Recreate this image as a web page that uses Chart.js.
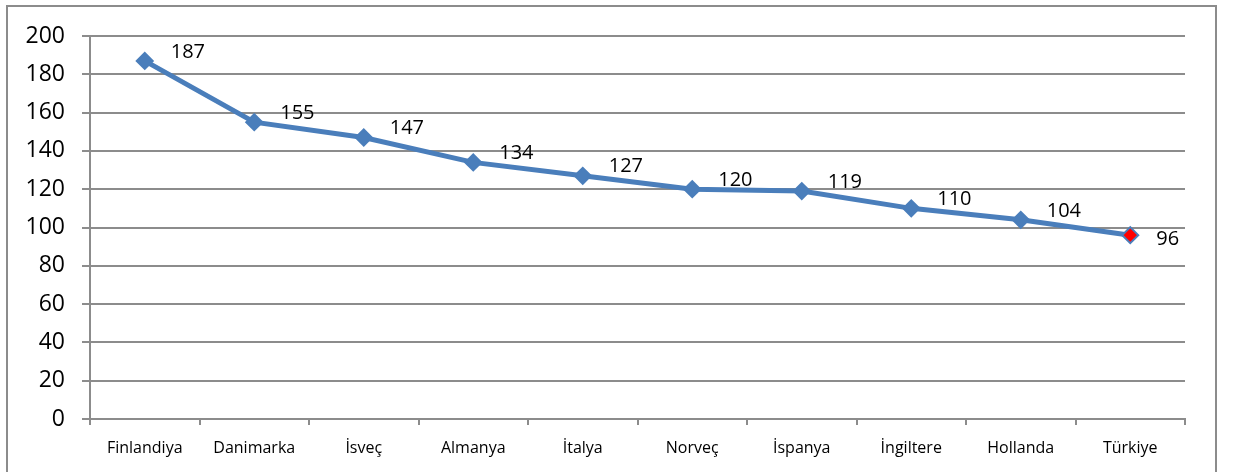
<!DOCTYPE html>
<html>
<head>
<meta charset="utf-8">
<script src="https://cdn.jsdelivr.net/npm/chart.js@4/dist/chart.umd.min.js"></script>
<style>
  html, body { margin: 0; padding: 0; background: #fff; overflow: hidden; }
  #wrap { position: absolute; left: 0; top: 0; width: 1235px; height: 472px; }
  #frame { position: absolute; left: 6px; top: 5px; width: 1207px; height: 480px; border: 2px solid #8c8c8c; pointer-events: none; }
</style>
</head>
<body>
<div id="wrap"><canvas id="c" width="1235" height="472"></canvas></div>
<div id="frame"></div>
<script>
const categories = ["Finlandiya", "Danimarka", "İsveç", "Almanya", "İtalya", "Norveç", "İspanya", "İngiltere", "Hollanda", "Türkiye"];
const values = [187, 155, 147, 134, 127, 120, 119, 110, 104, 96];
const yTicks = [0, 20, 40, 60, 80, 100, 120, 140, 160, 180, 200];
const highlightIndex = 9;

const BLUE = '#4A7EBB';
const GRID = '#8c8c8c';
const FONT = '"Open Sans", "Liberation Sans", sans-serif';

const labelPlugin = {
  id: 'valueLabels',
  afterDatasetsDraw(chart) {
    const ctx = chart.ctx;
    const meta = chart.getDatasetMeta(0);
    ctx.save();
    ctx.font = '20px ' + FONT;
    ctx.fillStyle = '#000';
    ctx.textAlign = 'left';
    ctx.textBaseline = 'middle';
    meta.data.forEach((pt, i) => {
      const dy = (i === highlightIndex) ? 4 : -9;
      ctx.fillText(String(values[i]), pt.x + 26, pt.y + dy);
    });
    ctx.restore();
  }
};

new Chart(document.getElementById('c'), {
  type: 'line',
  data: {
    labels: categories,
    datasets: [{
      data: values,
      borderColor: BLUE,
      borderWidth: 5,
      tension: 0,
      pointStyle: 'rectRot',
      pointRadius: 8,
      pointHoverRadius: 8,
      pointBorderWidth: 2,
      pointBorderColor: BLUE,
      pointBackgroundColor: (c) => c.dataIndex === highlightIndex ? '#FF0000' : BLUE
    }]
  },
  options: {
    responsive: false,
    animation: false,
    events: [],
    layout: { padding: { top: 36, right: 50, bottom: 0, left: 0 } },
    plugins: { legend: { display: false }, tooltip: { enabled: false } },
    scales: {
      x: {
        type: 'category',
        offset: true,
        grid: { display: true, drawOnChartArea: false, drawTicks: true, tickLength: 6, offset: true, color: GRID, lineWidth: 2 },
        border: { display: true, color: GRID, width: 2 },
        ticks: { color: '#000', font: { family: FONT, size: 16 }, padding: 14, maxRotation: 0, autoSkip: false },
        afterFit: (s) => { s.height = 53; }
      },
      y: {
        min: 0, max: 200,
        afterBuildTicks: (s) => { s.ticks = yTicks.map(v => ({ value: v })); },
        grid: { color: GRID, lineWidth: 2, drawTicks: true, tickLength: 8 },
        border: { display: true, color: GRID, width: 2 },
        ticks: { color: '#000', font: { family: FONT, size: 23 }, padding: 17 },
        afterFit: (s) => { s.width = 90; }
      }
    }
  },
  plugins: [labelPlugin]
});
</script>
</body>
</html>
